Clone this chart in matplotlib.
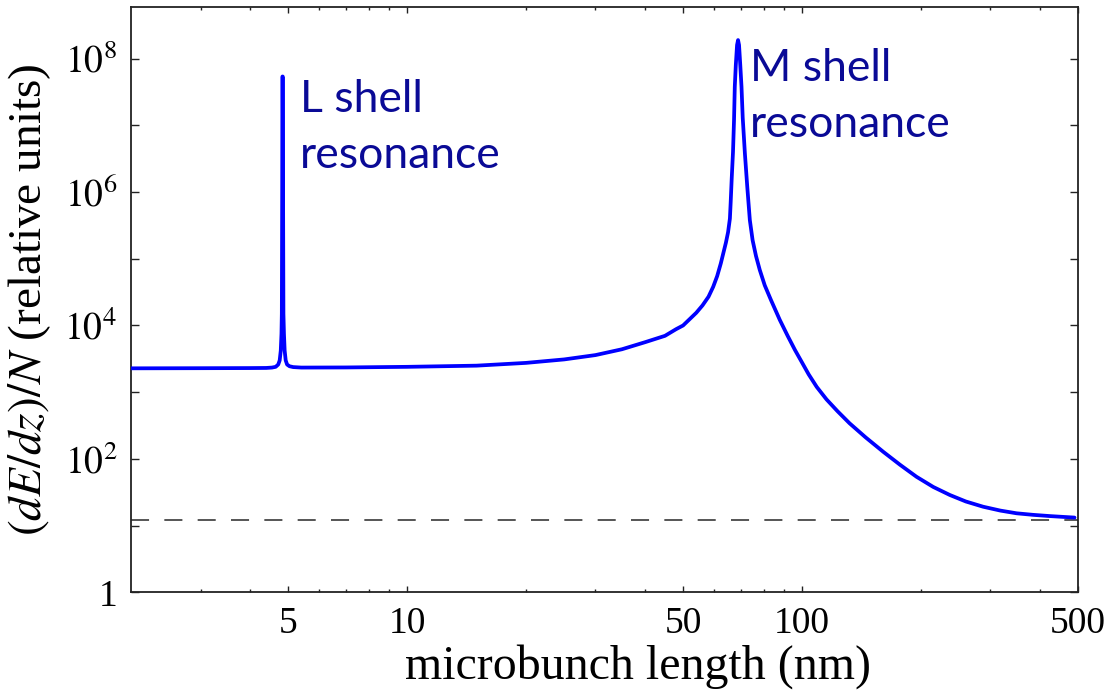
import matplotlib
matplotlib.use("Agg")
import matplotlib.pyplot as plt
from matplotlib.ticker import FixedLocator, FixedFormatter, NullFormatter

# ---- data ----
length_nm = [2.0, 3.0, 4.0, 4.4, 4.55, 4.65, 4.72, 4.76, 4.79, 4.81, 4.82, 4.83, 4.835, 4.838,
             4.845, 4.848, 4.855, 4.865, 4.88, 4.90, 4.93, 4.97, 5.04, 5.15, 5.4, 7.0, 10.0, 15.0,
             20.0, 25.0, 30.0, 35.0, 40.0, 45.0, 48.0, 50.0, 52.0, 54.0, 56.0, 58.0, 59.6, 61.0,
             62.3, 63.2, 64.2, 65.0, 65.7, 66.0, 66.4, 66.9, 67.3, 67.6, 68.0, 68.5, 68.9,
             69.3, 69.8, 70.3, 70.8, 71.7, 72.7, 73.8, 75.0, 76.5, 78.2, 80.5, 83.5, 87.9,
             92.0, 96.0, 100.0, 104.0, 109.0, 115.4, 123.0, 132.0, 145.0, 160.6, 177.0,
             195.0, 215.0, 236.8, 260.0, 287.6, 318.0, 349.5, 385.0, 424.4, 460.0, 490.0]
energy_loss = [2280, 2290, 2300, 2310, 2340, 2400, 2600, 3000, 4200, 7500, 1.5e4, 1e6, 3e7, 5.4e7,
               5.4e7, 3e7, 1e6, 1.5e4, 7500, 4200, 3000, 2600, 2450, 2380, 2340, 2350, 2400, 2500,
               2750, 3100, 3600, 4400, 5600, 7000, 8800, 1.0e4, 1.25e4, 1.55e4, 2.0e4, 2.7e4, 3.8e4,
               5.5e4, 8.5e4, 1.2e5, 1.75e5, 2.5e5, 4.0e5, 7.0e5, 1.6e6, 4.0e6, 1.2e7, 3.8e7, 8e7,
               1.6e8, 1.9e8, 1.6e8, 8e7, 3.8e7, 1.3e7, 3.8e6, 1.2e6, 3.8e5, 1.9e5, 1.1e5, 6.8e4,
               4.0e4, 2.4e4, 1.21e4, 7000, 4300, 2800, 1850, 1200, 780, 520, 342, 210, 128, 82,
               54, 38, 28.8, 23, 19.2, 16.8, 15.3, 14.5, 13.9, 13.5, 13.2]
reference_level = 12.1

x_major = [5, 10, 50, 100, 500]
x_major_labels = ["5", "10", "50", "100", "500"]
x_minor = [3, 4, 6, 7, 8, 9, 20, 30, 40, 60, 70, 80, 90, 200, 300, 400]
y_major = [1, 1e2, 1e4, 1e6, 1e8]
y_major_labels = ["1", r"$10^2$", r"$10^4$", r"$10^6$", r"$10^8$"]
y_minor = [1e1, 1e3, 1e5, 1e7]

annotations = [("L shell\nresonance", 5.35, 5.0e7), ("M shell\nresonance", 74.0, 1.45e8)]

# ---- figure ----
plt.rcParams["mathtext.fontset"] = "stix"
plt.rcParams["font.family"] = ["Liberation Serif", "DejaVu Serif"]
plt.rcParams["lines.scale_dashes"] = False

fig = plt.figure(figsize=(11.07, 6.94), dpi=100)
ax = fig.add_axes([0.1183, 0.1465, 0.9738 - 0.1183, 0.9895 - 0.1465])
ax.set_xscale("log")
ax.set_yscale("log")
ax.set_xlim(2, 500)
ax.set_ylim(1, 10 ** 8.77)

ax.plot(length_nm, energy_loss, color="#0000ff", lw=2.7, solid_joinstyle="round",
        solid_capstyle="round", zorder=3)
ax.axhline(reference_level, color="#555555", lw=1.4, dashes=[13, 11], zorder=2)

ax.xaxis.set_major_locator(FixedLocator(x_major))
ax.xaxis.set_major_formatter(FixedFormatter(x_major_labels))
ax.xaxis.set_minor_locator(FixedLocator(x_minor))
ax.xaxis.set_minor_formatter(NullFormatter())
ax.yaxis.set_major_locator(FixedLocator(y_major))
ax.yaxis.set_major_formatter(FixedFormatter(y_major_labels))
ax.yaxis.set_minor_locator(FixedLocator(y_minor))
ax.yaxis.set_minor_formatter(NullFormatter())

ax.tick_params(axis="both", which="both", direction="in", top=True, right=True,
               width=1.0, color="#222222", labelsize=27, pad=10)
ax.tick_params(axis="x", which="major", length=4.5)
ax.tick_params(axis="x", which="minor", length=2.2)
ax.tick_params(axis="y", which="both", length=6)
for s in ax.spines.values():
    s.set_linewidth(1.3)
    s.set_color("#222222")

ax.set_xlabel("microbunch length (nm)", fontsize=34.5)
ax.xaxis.set_label_coords(0.535, -0.088)
ax.set_ylabel(r"$(dE/dz)/N$ (relative units)", fontsize=34, labelpad=8)

for txt, xv, yv in annotations:
    ax.text(xv, yv, txt, color="#0a0a96", fontsize=32, family=["Lato", "DejaVu Sans"],
            ha="left", va="top", linespacing=1.45)

fig.savefig("out.png", dpi=100)
